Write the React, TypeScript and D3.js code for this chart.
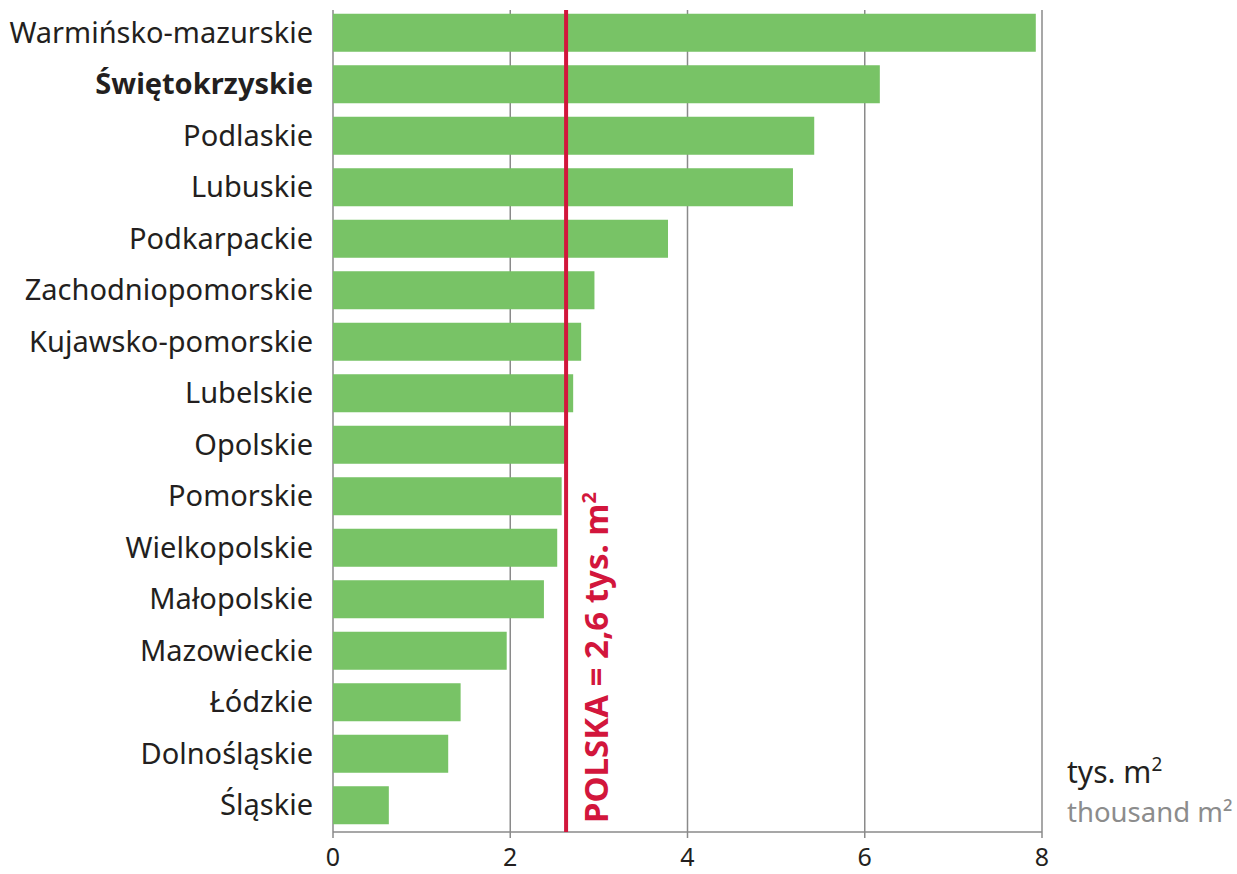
import React from "react";
import * as d3 from "d3";

// wartości w tys. m2
const regions = [
  "Warmińsko-mazurskie",
  "Świętokrzyskie",
  "Podlaskie",
  "Lubuskie",
  "Podkarpackie",
  "Zachodniopomorskie",
  "Kujawsko-pomorskie",
  "Lubelskie",
  "Opolskie",
  "Pomorskie",
  "Wielkopolskie",
  "Małopolskie",
  "Mazowieckie",
  "Łódzkie",
  "Dolnośląskie",
  "Śląskie",
];
const values = [7.93, 6.17, 5.43, 5.19, 3.78, 2.95, 2.8, 2.71, 2.62, 2.58, 2.53, 2.38, 1.96, 1.44, 1.3, 0.63];
const highlighted = ["Świętokrzyskie"];
const xTicks = [0, 2, 4, 6, 8];
const polandValue = 2.63;
const polandLabel = "POLSKA = 2,6 tys. m";

const W = 1237;
const H = 874;
const FONT = "'Noto Sans', sans-serif";

export default function App() {
  const x = d3.scaleLinear().domain([0, 8]).range([333, 1042]);
  const y = d3
    .scaleBand<string>()
    .domain(regions)
    .range([7, 831])
    .paddingInner(0.262)
    .paddingOuter(0.131);

  const top = 10;
  const axisY = 832;
  const avgX = x(polandValue);

  return (
    <svg
      width={W}
      height={H}
      style={{ position: "absolute", left: 0, top: 0, background: "#fff" }}
      fontFamily={FONT}
    >
      {/* siatka */}
      {xTicks.map((t) => (
        <line
          key={"g" + t}
          x1={x(t)}
          x2={x(t)}
          y1={top}
          y2={axisY + 6}
          stroke="#8a8a8a"
          strokeWidth={1.5}
        />
      ))}

      {/* słupki */}
      {regions.map((r, i) => (
        <rect
          key={r}
          x={x(0)}
          y={y(r)}
          width={x(values[i]) - x(0)}
          height={y.bandwidth()}
          fill="#78c366"
        />
      ))}

      {/* oś x */}
      <line x1={x(0)} x2={x(8)} y1={axisY} y2={axisY} stroke="#8a8a8a" strokeWidth={1.5} />
      {xTicks.map((t) => (
        <text
          key={"t" + t}
          x={x(t)}
          y={866}
          textAnchor="middle"
          fontSize={25}
          fill="#231f20"
        >
          {t}
        </text>
      ))}

      {/* etykiety województw */}
      {regions.map((r) => (
        <text
          key={"l" + r}
          x={313}
          y={(y(r) ?? 0) + y.bandwidth() / 2}
          dy="0.35em"
          textAnchor="end"
          fontSize={29}
          fontWeight={highlighted.includes(r) ? 700 : 400}
          fill="#231f20"
        >
          {r}
        </text>
      ))}

      {/* średnia dla Polski */}
      <line x1={avgX} x2={avgX} y1={top} y2={axisY} stroke="#d2163c" strokeWidth={4} />
      <text
        transform={`translate(${avgX + 42},823) rotate(-90)`}
        fontSize={33}
        fontWeight={700}
        fill="#d2163c"
      >
        {polandLabel}
        <tspan dy={-12} fontSize={20}>
          2
        </tspan>
      </text>

      {/* jednostka */}
      <text x={1067} y={783} fontSize={30} fill="#231f20">
        tys. m
        <tspan dy={-12} fontSize={19}>
          2
        </tspan>
      </text>
      <text x={1067} y={822} fontSize={27.5} fill="#8c8c8c">
        thousand m²
      </text>
    </svg>
  );
}
